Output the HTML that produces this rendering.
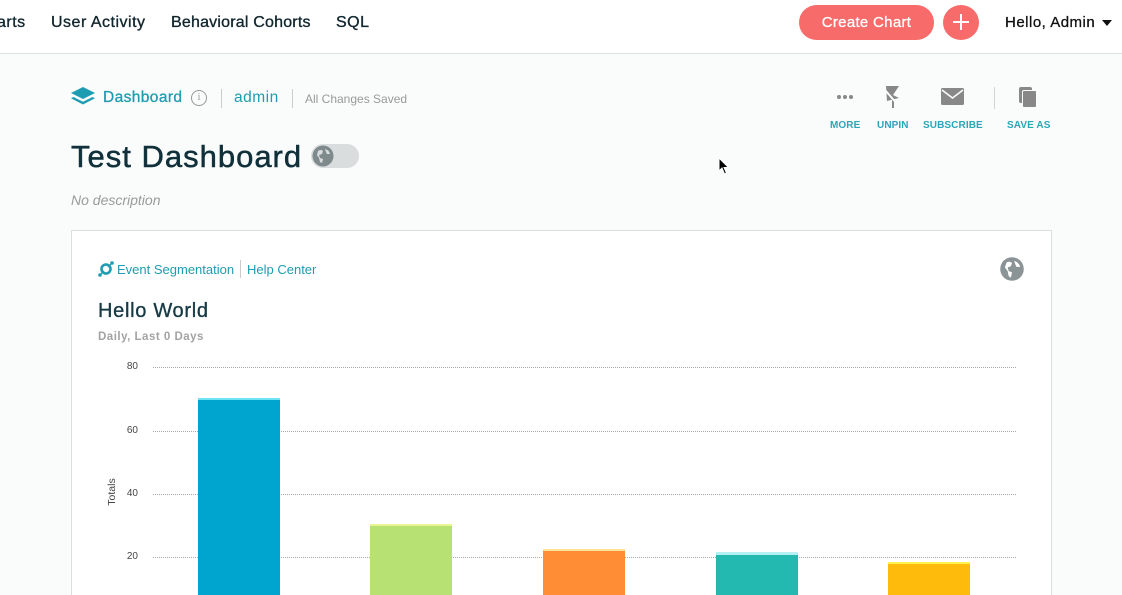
<!DOCTYPE html>
<html><head><meta charset="utf-8">
<style>
*{margin:0;padding:0;box-sizing:border-box}
html,body{width:1122px;height:595px;overflow:hidden;background:#fafbfb;font-family:"Liberation Sans",sans-serif}
#w{position:relative;width:1122px;height:595px;overflow:hidden}
.a{position:absolute;white-space:nowrap}
.nav{position:absolute;left:0;top:0;width:1122px;height:54px;background:#fff;border-bottom:1px solid #dfe2e3}
.navt{font-size:16px;color:#11262e;top:14px;-webkit-text-stroke:0.35px #11262e;letter-spacing:0.5px}
.teal{color:#1e9cb1}
.lbl{font-size:10px;font-weight:bold;color:#2aa7b7;top:120px;letter-spacing:0.1px}
.grid{position:absolute;left:153px;width:863px;height:0;border-top:1px dotted #a9a9a9}
.tick{position:absolute;font-size:10px;color:#444;width:30px;text-align:right;left:108px}
.bar{position:absolute;width:82px}
</style></head><body><div id="w">
<div class="nav"></div>
<div class="a navt" style="left:-3px;">arts</div>
<div class="a navt" style="left:51px;">User Activity</div>
<div class="a navt" style="left:171px;letter-spacing:0.2px">Behavioral Cohorts</div>
<div class="a navt" style="left:336px;">SQL</div>
<div class="a" style="left:799px;top:5px;width:135px;height:35px;border-radius:18px;background:#f76c6a;color:#fff;font-size:15px;text-align:center;line-height:35px;-webkit-text-stroke:0.3px #fff;letter-spacing:0.3px">Create Chart</div>
<div class="a" style="left:943px;top:5px;width:36px;height:35px;border-radius:50%;background:#f76c6a;"></div>
<div class="a" style="left:953px;top:21px;width:16px;height:2px;background:#fff"></div>
<div class="a" style="left:960px;top:14px;width:2px;height:16px;background:#fff"></div>
<div class="a" style="left:1005px;top:14px;font-size:15px;color:#111;-webkit-text-stroke:0.3px #111;letter-spacing:0.5px">Hello, Admin</div>
<div class="a" style="left:1102px;top:20px;width:0;height:0;border-left:5px solid transparent;border-right:5px solid transparent;border-top:6px solid #111"></div>

<!-- breadcrumb -->
<svg class="a" style="left:70px;top:86px" width="26" height="22" viewBox="0 0 26 22">
<path d="M13 1 L25 7 L13 13 L1 7 Z" fill="#1e9cb1"/>
<path d="M3.5 11 L13 15.8 L22.5 11 L25 12.3 L13 18.5 L1 12.3 Z" fill="#1e9cb1"/>
</svg>
<div class="a teal" style="left:103px;top:89px;font-size:15.5px;-webkit-text-stroke:0.3px #1e9cb1;letter-spacing:0.4px">Dashboard</div>
<div class="a" style="left:191px;top:90px;width:16px;height:16px;border:1.3px solid #999;border-radius:50%;color:#999;font-size:10px;text-align:center;line-height:13px;font-family:'Liberation Serif',serif">i</div>
<div class="a" style="left:221px;top:89px;width:1px;height:19px;background:#ccc"></div>
<div class="a teal" style="left:234px;top:89px;font-size:15.5px;letter-spacing:0.5px">admin</div>
<div class="a" style="left:292px;top:89px;width:1px;height:19px;background:#ccc"></div>
<div class="a" style="left:305px;top:92px;font-size:12px;color:#9a9a9a">All Changes Saved</div>

<div class="a" style="left:71px;top:139px;font-size:31px;color:#10303a;-webkit-text-stroke:0.5px #10303a;letter-spacing:1px">Test Dashboard</div>
<div class="a" style="left:311px;top:144px;width:48px;height:24px;border-radius:12px;background:#dadddd"></div>
<svg class="a" style="left:312px;top:145px" width="22" height="22" viewBox="0 0 22 22">
<circle cx="11" cy="11" r="10.5" fill="#7f8a8c"/>
<path d="M6 6 Q9 4 11 6 L10 9 L7 10 L8 13 L11 14 L10 18 L8 17 L7 13 L5 10 Z M13 4 Q17 5 18 9 L15 9 L14 7 Z" fill="#dadddd"/>
</svg>
<div class="a" style="left:71px;top:192px;font-size:14px;font-style:italic;color:#9a9a9a">No description</div>

<!-- actions -->
<div class="a" style="left:837px;top:95px;width:4px;height:4px;border-radius:50%;background:#888;box-shadow:6px 0 0 #888,12px 0 0 #888"></div>
<svg class="a" style="left:884px;top:85px" width="18" height="24" viewBox="0 0 18 24">
<path d="M2 1 L15 1 L9 10 L15 13 L3 16 Z" fill="#888"/>
<path d="M9 12 L9 23" stroke="#888" stroke-width="2"/>
<path d="M1 5 L14 20" stroke="#fafbfb" stroke-width="2"/>
</svg>
<svg class="a" style="left:941px;top:88px" width="23" height="17" viewBox="0 0 23 17">
<rect x="0" y="0" width="23" height="17" rx="1.5" fill="#888"/>
<path d="M1 2 L11.5 10 L22 2" stroke="#fafbfb" stroke-width="1.6" fill="none"/>
</svg>
<div class="a" style="left:994px;top:87px;width:1px;height:22px;background:#d3d3d3"></div>
<div class="a" style="left:1019px;top:87px;width:13px;height:16px;border-radius:2px;background:#888"></div>
<div class="a" style="left:1022px;top:90px;width:15px;height:18px;border-radius:2px;background:#888;border:1.5px solid #fafbfb;"></div>
<div class="a lbl" style="left:830px;">MORE</div>
<div class="a lbl" style="left:877px;">UNPIN</div>
<div class="a lbl" style="left:923px;">SUBSCRIBE</div>
<div class="a lbl" style="left:1007px;">SAVE AS</div>

<!-- cursor -->
<svg class="a" style="left:718px;top:157px" width="12" height="19" viewBox="0 0 12 19">
<path d="M1 1 L1 14 L4 11 L6.5 17 L8.5 16 L6 10.5 L10.5 10.5 Z" fill="#000" stroke="#fff" stroke-width="1"/>
</svg>

<!-- card -->
<div class="a" style="left:71px;top:230px;width:981px;height:380px;background:#fff;border:1px solid #dcdfe0"></div>
<svg class="a" style="left:98px;top:261px" width="16" height="16" viewBox="0 0 16 16">
<circle cx="8" cy="8" r="4.5" fill="none" stroke="#1e9cb1" stroke-width="2.6"/>
<circle cx="2" cy="14" r="1.8" fill="#1e9cb1"/>
<circle cx="14" cy="2" r="1.8" fill="#1e9cb1"/>
<path d="M3 13 L6 10 M10 6 L13 3" stroke="#1e9cb1" stroke-width="1.3"/>
</svg>
<div class="a teal" style="left:117px;top:262px;font-size:13px">Event Segmentation</div>
<div class="a" style="left:240px;top:260px;width:1px;height:18px;background:#ccc"></div>
<div class="a teal" style="left:247px;top:262px;font-size:13px">Help Center</div>
<svg class="a" style="left:1000px;top:257px" width="24" height="24" viewBox="0 0 22 22">
<circle cx="11" cy="11" r="10.8" fill="#8a9496"/>
<path d="M6 5 Q9 3.5 11 5.5 L10 8.5 L7 9.5 L8 13 L11 14 L10 19 L8 17.5 L7 13 L4.5 9.5 Z M13 3.5 Q17.5 5 18.5 9 L15 9 L14 6.5 Z" fill="#fff"/>
</svg>
<div class="a" style="left:98px;top:300px;font-size:20px;color:#173a44;-webkit-text-stroke:0.35px #173a44;letter-spacing:0.7px">Hello World</div>
<div class="a" style="left:98px;top:331px;font-size:11.5px;color:#a3a3a3;font-weight:bold;letter-spacing:0.5px">Daily, Last 0 Days</div>

<!-- chart -->
<div class="grid" style="top:367px"></div>
<div class="grid" style="top:431px"></div>
<div class="grid" style="top:494px"></div>
<div class="grid" style="top:557px"></div>
<div class="tick" style="top:361px">80</div>
<div class="tick" style="top:425px">60</div>
<div class="tick" style="top:488px">40</div>
<div class="tick" style="top:551px">20</div>
<div class="a" style="left:92px;top:486px;font-size:10.5px;color:#444;transform:rotate(-90deg);transform-origin:center;width:40px;text-align:center">Totals</div>

<div class="bar" style="left:198px;top:398px;height:200px;background:#00a5cf;border-top:2px solid #6fe3f2"></div>
<div class="bar" style="left:370px;top:524px;height:80px;background:#b7e173;border-top:2px solid #e8f590"></div>
<div class="bar" style="left:543px;top:549px;height:60px;background:#ff8d35;border-top:2px solid #ffe39a"></div>
<div class="bar" style="left:716px;top:552px;height:60px;background:#23b9b0;border-top:3px solid #b5f1f3"></div>
<div class="bar" style="left:888px;top:562px;height:60px;background:#ffbb0b;border-top:2px solid #fff24d"></div>
</div></body></html>
